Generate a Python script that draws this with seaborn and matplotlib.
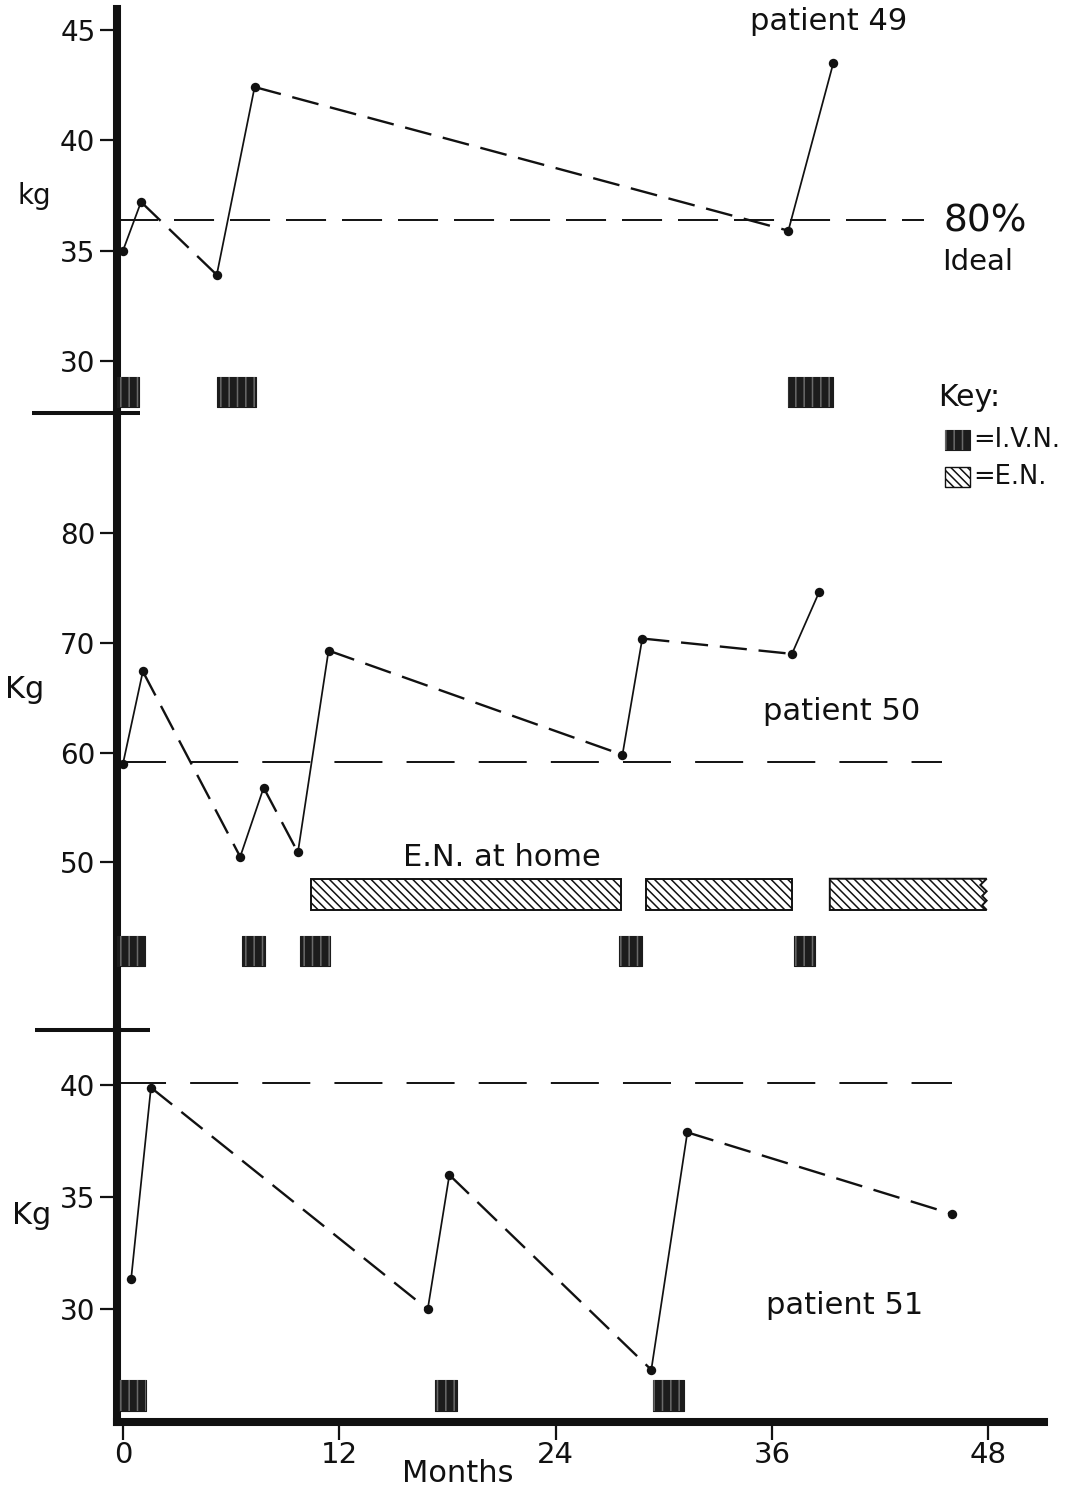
import matplotlib
matplotlib.use("Agg")
import matplotlib.pyplot as plt
from matplotlib.patches import Rectangle, Polygon
import pandas as pd
import seaborn as sns

# ---------------- data ----------------
month_ticks = [0, 12, 24, 36, 48]

# patient 49
p49_month = [0.0, 1.0, 5.2, 7.3, 36.9, 39.4]
p49_kg = [35.0, 37.2, 33.9, 42.4, 35.9, 43.5]
p49_link = ["solid", "dashed", "solid", "dashed", "solid"]
p49_ideal = 36.4
p49_ivn_start = [-0.4, 5.2, 36.9]
p49_ivn_end = [0.9, 7.4, 39.4]
p49_yticks = [30, 35, 40, 45]

# patient 50
p50_month = [0.0, 1.1, 6.5, 7.8, 9.7, 11.4, 27.7, 28.8, 37.1, 38.6]
p50_kg = [59.0, 67.4, 50.5, 56.8, 50.9, 69.3, 59.8, 70.4, 69.0, 74.6]
p50_link = ["solid", "dashed", "solid", "dashed", "solid",
            "dashed", "solid", "dashed", "solid"]
p50_ideal = 59.1
p50_ivn_start = [-0.4, 6.6, 9.8, 27.5, 37.2]
p50_ivn_end = [1.2, 7.9, 11.5, 28.8, 38.4]
p50_en_start = [10.4, 29.0, 39.2]
p50_en_end = [27.6, 37.1, 47.9]
p50_yticks = [50, 60, 70, 80]

# patient 51
p51_month = [0.45, 1.55, 16.9, 18.1, 29.3, 31.3, 46.0]
p51_kg = [31.35, 39.9, 30.0, 36.0, 27.3, 37.9, 34.25]
p51_link = ["solid", "dashed", "solid", "dashed", "solid", "dashed"]
p51_ideal = 40.1
p51_ivn_start = [-0.2, 17.3, 29.4]
p51_ivn_end = [1.3, 18.5, 31.1]
p51_yticks = [30, 35, 40]

# ---------------- style ----------------
sns.set_theme(style="ticks")
plt.rcParams["font.family"] = ["DejaVu Sans"]
plt.rcParams["hatch.linewidth"] = 1.1
INK = "#111111"
IVN_DARK = "#1c1c1c"
IVN_STREAK = "#6a6a6a"
EN_HATCH = "\\\\\\\\"

W, H = 1073, 1499
AX_LEFT, AX_RIGHT = 117, 1044
fig = plt.figure(figsize=(W / 100, H / 100), dpi=100)
fig.patch.set_facecolor("white")


def box(top, bottom):
    return [AX_LEFT / W, 1 - bottom / H, (AX_RIGHT - AX_LEFT) / W, (bottom - top) / H]


def fx(px):
    return px / W


def fy(py):
    return 1 - py / H


ax1 = fig.add_axes(box(9, 413))
ax2 = fig.add_axes(box(413, 1030))
ax3 = fig.add_axes(box(1030, 1422))

XLIM = (-0.333, 51.08)
panels = [
    (ax1, (27.65, 45.93), p49_yticks),
    (ax2, (34.71, 90.96), p50_yticks),
    (ax3, (24.97, 42.47), p51_yticks),
]


def draw_weights(ax, month, kg, link):
    rows = []
    for i, kind in enumerate(link):
        for j in (i, i + 1):
            rows.append({"month": month[j], "kg": kg[j], "seg": i, "link": kind})
    df = pd.DataFrame(rows)
    sns.lineplot(data=df, x="month", y="kg", units="seg", style="link", size="link",
                 dashes={"solid": "", "dashed": (11.5, 5.0)},
                 sizes={"solid": 1.25, "dashed": 1.7},
                 estimator=None, sort=False, color=INK, legend=False, ax=ax)
    sns.scatterplot(x=month, y=kg, color=INK, s=46, linewidth=0, zorder=5,
                    legend=False, ax=ax)


def draw_ivn(ax, starts, ends, lo, hi):
    spans = [(s, e - s) for s, e in zip(starts, ends)]
    ax.broken_barh(spans, (lo, hi - lo), facecolors=IVN_DARK, edgecolors=IVN_DARK,
                   linewidth=0.8, zorder=3)
    ax.broken_barh(spans, (lo, hi - lo), facecolors="none", edgecolors=IVN_STREAK,
                   hatch="||", linewidth=0, zorder=3.1)


def ideal_line(ax, value, x_end, dash):
    ax.plot([-0.3, x_end], [value, value], color=INK, lw=1.4,
            linestyle=(0, dash), zorder=2)


# patient 49
draw_weights(ax1, p49_month, p49_kg, p49_link)
ideal_line(ax1, p49_ideal, 44.4, (20.6, 8.2))
draw_ivn(ax1, p49_ivn_start, p49_ivn_end, 27.9, 29.3)

# patient 50
draw_weights(ax2, p50_month, p50_kg, p50_link)
ideal_line(ax2, p50_ideal, 45.4, (24.7, 12.4))
draw_ivn(ax2, p50_ivn_start, p50_ivn_end, 40.5, 43.3)
en_lo, en_hi = 45.65, 48.5
for s, e in zip(p50_en_start[:-1], p50_en_end[:-1]):
    ax2.add_patch(Rectangle((s, en_lo), e - s, en_hi - en_lo, facecolor="white",
                            edgecolor=INK, hatch=EN_HATCH, linewidth=1.4, zorder=3))
# last enteral feeding period is still running: ragged right edge
s, e = p50_en_start[-1], p50_en_end[-1]
h = en_hi - en_lo
ragged = [(e, en_hi), (e - 0.35, en_hi - 0.2 * h), (e, en_hi - 0.4 * h),
          (e - 0.25, en_hi - 0.55 * h), (e, en_hi - 0.7 * h),
          (e - 0.25, en_hi - 0.85 * h), (e, en_lo)]
verts = [(s, en_lo), (s, en_hi)] + ragged
ax2.add_patch(Polygon(verts, closed=True, facecolor="white", edgecolor=INK,
                      hatch=EN_HATCH, linewidth=1.4, zorder=3))

# patient 51
draw_weights(ax3, p51_month, p51_kg, p51_link)
ideal_line(ax3, p51_ideal, 46.0, (24.7, 12.4))
draw_ivn(ax3, p51_ivn_start, p51_ivn_end, 25.45, 26.85)

# ---------------- axes ----------------
for ax, ylim, yt in panels:
    ax.set_facecolor("none")
    ax.set_xlim(*XLIM)
    ax.set_ylim(*ylim)
    ax.set_yticks(yt)
    ax.set_xlabel("")
    ax.set_ylabel("")
    for side in ("top", "right", "bottom"):
        ax.spines[side].set_visible(False)
    ax.spines["left"].set_linewidth(5.8)
    ax.spines["left"].set_color(INK)
    ax.tick_params(axis="y", direction="out", length=12.5, width=1.6,
                   labelsize=20, pad=3, color=INK, labelcolor=INK, left=True)
    ax.set_xticks([])

ax3.spines["bottom"].set_visible(True)
ax3.spines["bottom"].set_linewidth(5.8)
ax3.spines["bottom"].set_color(INK)
ax3.set_xticks(month_ticks)
ax3.tick_params(axis="x", direction="out", length=13, width=1.6, labelsize=21,
                pad=1, color=INK, labelcolor=INK, bottom=True)

# short separators between the patient panels
span = AX_RIGHT - AX_LEFT
for ax, x0, x1 in ((ax1, (32 - AX_LEFT) / span, (140 - AX_LEFT) / span),
                   (ax2, (35 - AX_LEFT) / span, (150 - AX_LEFT) / span)):
    ax.plot([x0, x1], [0, 0], transform=ax.transAxes, color=INK, lw=2.9,
            clip_on=False, solid_capstyle="butt", zorder=6)

# ---------------- text ----------------
def label(x, y, s, size, ha="center", **kw):
    fig.text(fx(x), fy(y), s, fontsize=size, ha=ha, va="center", color=INK, **kw)


label(829, 21, "patient 49", 22)
label(985, 222, "80%", 27)
label(978, 262, "Ideal", 21)
label(34, 196, "kg", 20)
label(25, 690, "Kg", 22)
label(842, 712, "patient 50", 22)
label(502, 858, "E.N. at home", 22)
label(32, 1216, "Kg", 22)
label(845, 1305, "patient 51", 22)
label(458, 1474, "Months", 22)

# key
label(938, 397, "Key:", 21.5, ha="left")
label(973, 440, "=I.V.N.", 18.5, ha="left")
label(973, 477, "=E.N.", 18.5, ha="left")
for patch_kw in ({"facecolor": IVN_DARK, "edgecolor": IVN_DARK, "linewidth": 0.8},
                 {"facecolor": "none", "edgecolor": IVN_STREAK, "hatch": "||", "linewidth": 0}):
    fig.add_artist(Rectangle((fx(945), fy(450)), 25 / W, 20 / H,
                             transform=fig.transFigure, **patch_kw))
fig.add_artist(Rectangle((fx(945), fy(487)), 25 / W, 20 / H, transform=fig.transFigure,
                         facecolor="white", edgecolor=INK, hatch=EN_HATCH, linewidth=1.0))

fig.savefig("out.png", dpi=100, facecolor="white")
